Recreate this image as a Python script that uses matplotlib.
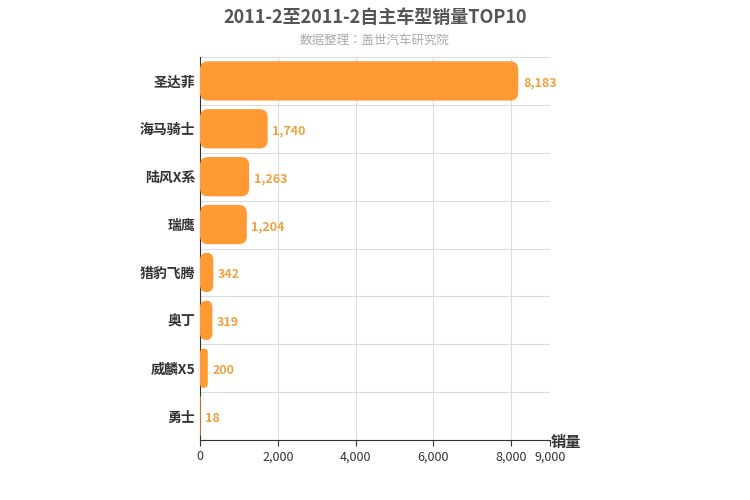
import matplotlib
matplotlib.use("Agg")
import matplotlib.pyplot as plt
from matplotlib.patches import FancyBboxPatch
from matplotlib import font_manager as fm

cjk = [f.name for f in fm.fontManager.ttflist if "CJK" in f.name]
pref = [n for n in cjk if "SC" in n] or cjk
fam = pref[0] if pref else "Noto Sans CJK SC"
plt.rcParams["font.family"] = "sans-serif"
plt.rcParams["font.sans-serif"] = [fam, "DejaVu Sans"]

categories = ["圣达菲", "海马骑士", "陆风X系", "瑞鹰", "猎豹飞腾", "奥丁", "威麟X5", "勇士"]
values = [8183, 1740, 1263, 1204, 342, 319, 200, 18]
xticks = [0, 2000, 4000, 6000, 8000, 9000]

fig = plt.figure(figsize=(7.5, 5), dpi=100)
ax = fig.add_axes([200/750, 60/500, 350/750, 383/500])
n = len(categories)
ax.set_xlim(0, 9000)
ax.set_ylim(n, 0)
color = "#FF9933"
h = 0.82
for i, v in enumerate(values):
    y0 = i + 0.5 - h/2
    r = min(200, v/2)
    p = FancyBboxPatch((0, y0), v, h, boxstyle=f"round,pad=0,rounding_size={r}",
                       mutation_aspect=0.17/200, fc=color, ec="none", zorder=3)
    ax.add_patch(p)
    ax.text(v + 120, i + 0.55, f"{v:,}", va="center", ha="left", color="#F0A040",
            fontsize=9, fontweight="bold", zorder=4)
ax.set_yticks([i + 0.5 for i in range(n)])
ax.set_yticklabels(categories, fontsize=10, fontweight="bold", color="#333333")
ax.set_yticks(range(n + 1), minor=True)
ax.set_xticks(xticks)
ax.set_xticklabels([f"{t:,}" for t in xticks], fontsize=9, color="#333333")
ax.grid(True, axis="x", color="#dddddd", lw=0.8, zorder=0)
ax.grid(True, axis="y", which="minor", color="#dddddd", lw=0.8, zorder=0)
ax.tick_params(axis="y", which="both", length=0)
ax.tick_params(axis="x", length=4, color="#333333")
for s in ["top", "right"]:
    ax.spines[s].set_visible(False)
ax.spines["left"].set_color("#333333")
ax.spines["bottom"].set_color("#333333")
ax.text(9400, n + 0.05, "销量", fontsize=11, fontweight="bold", color="#333333", ha="center", va="center")
fig.text(0.5, 0.965, "2011-2至2011-2自主车型销量TOP10", ha="center", va="center",
         fontsize=13, fontweight="bold", color="#555555")
fig.text(0.5, 0.92, "数据整理：盖世汽车研究院", ha="center", va="center", fontsize=9, color="#aaaaaa")
fig.savefig("out.png", dpi=100)
